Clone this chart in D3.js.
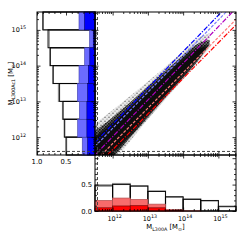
<!DOCTYPE html>
<html><head><meta charset="utf-8">
<script src="https://cdn.jsdelivr.net/npm/d3@7"></script>
<style>
body{margin:0;background:#fff}
svg text{font-family:"DejaVu Sans",sans-serif;fill:#000}
</style></head><body>
<svg id="chart" width="249" height="249"></svg>
<script>
// log10 mass bin edges (0.5 dex)
var binEdges = [11.5, 12.0, 12.5, 13.0, 13.5, 14.0, 14.5, 15.0, 15.5];

// bottom panel, fraction per L300A bin
var botBlack = [0.49, 0.50, 0.47, 0.37, 0.27, 0.22, 0.20, 0.09];
var botGray  = [0.47, 0.52, 0.48, 0.38, 0.26, 0.23, 0.19, 0.08];
var botLightRed = [0.20, 0.245, 0.22, 0.13, 0.03, 0.005, 0, 0];
var botDarkRed  = [0.06, 0.095, 0.10, 0.06, 0.01, 0, 0, 0];

// left panel, fraction per L300Ac1 bin (bottom bin first)
var leftBlack = [0.50, 0.53, 0.55, 0.61, 0.72, 0.77, 0.81, 0.90];
var leftGray  = [0.49, 0.52, 0.56, 0.63, 0.73, 0.78, 0.79, 0.89];
var leftLightBlue = [0.22, 0.30, 0.27, 0.305, 0.276, 0.18, 0.095, 0.276];
var leftDarkBlue  = [0.126, 0.14, 0.14, 0.126, 0.115, 0.09, 0.03, 0.18];

// scatter cloud envelope, log10 masses
var cloudX  = [11.4, 12.0, 12.5, 13.0, 13.5, 14.0, 14.4, 14.75];
var outerHi = [12.3, 12.75, 13.15, 13.55, 13.97, 14.4, 14.8, 14.9];
var outerLo = [10.8, 11.25, 11.9, 12.5, 13.08, 13.62, 14.05, 14.6];
var midHi   = [12.1, 12.55, 12.97, 13.42, 13.87, 14.29, 14.64, 14.72];
var midLo   = [10.9, 11.4, 12.0, 12.56, 13.13, 13.66, 14.1, 14.6];
var coreHi  = [11.95, 12.42, 12.87, 13.32, 13.78, 14.22, 14.54, 14.58];
var coreLo  = [11.0, 11.5, 12.03, 12.58, 13.15, 13.7, 14.16, 14.58];

// fit lines, [log x, log y] end points
var lineStart = [[11.5, 11.85], [11.5, 11.74], [11.5, 11.5], [11.68, 11.5], [11.85, 11.5]];
var lineEnd   = [[15.09, 15.5], [15.22, 15.5], [15.4, 15.5], [15.5, 15.29], [15.5, 15.14]];
var lineColors = ['#0000ff', '#7a7aff', '#b000c0', '#ff7a7a', '#ff0000'];
var lineDash = ['5,1.5,1.2,1.5', '3,1.5', '5,1.5,1.2,1.5', '3,1.5', '5,1.5,1.2,1.5'];

// mass cuts
var cutX = 11.57;
var cutY = 11.6;

var L = 37, X0 = 95, X1 = 236, Y0 = 12, Y1 = 155, YB = 211;

var svg = d3.select('#chart');

var x = d3.scaleLog().domain([Math.pow(10, 11.5), Math.pow(10, 15.5)]).range([X0, X1]);
var y = d3.scaleLog().domain([Math.pow(10, 11.5), Math.pow(10, 15.5)]).range([Y1, Y0]);
var fx = d3.scaleLinear().domain([1, 0]).range([L, X0]);
var fy = d3.scaleLinear().domain([0, 1.06]).range([YB, Y1]);

function p(v) { return Math.pow(10, v); }

var defs = svg.append('defs');
defs.append('clipPath').attr('id', 'clipMain')
  .append('rect').attr('x', X0).attr('y', Y0).attr('width', X1 - X0).attr('height', Y1 - Y0);
defs.append('filter').attr('id', 'blur').attr('x', '-10%').attr('y', '-10%').attr('width', '120%').attr('height', '120%')
  .append('feGaussianBlur').attr('stdDeviation', 0.9);

// speckle fills so the cloud reads as a swarm of points
var pOuter = defs.append('pattern').attr('id', 'speckOuter').attr('patternUnits', 'userSpaceOnUse')
  .attr('width', 4).attr('height', 4);
pOuter.append('rect').attr('width', 4).attr('height', 4).attr('fill', '#e8e8e8');
pOuter.append('circle').attr('cx', 1).attr('cy', 1.2).attr('r', 0.7).attr('fill', '#555');
pOuter.append('circle').attr('cx', 3).attr('cy', 3.1).attr('r', 0.6).attr('fill', '#888');
var pMid = defs.append('pattern').attr('id', 'speckMid').attr('patternUnits', 'userSpaceOnUse')
  .attr('width', 3).attr('height', 3);
pMid.append('rect').attr('width', 3).attr('height', 3).attr('fill', '#777');
pMid.append('circle').attr('cx', 0.8).attr('cy', 0.8).attr('r', 0.9).attr('fill', '#111');
pMid.append('circle').attr('cx', 2.3).attr('cy', 2.2).attr('r', 0.8).attr('fill', '#222');

// ---- bottom panel histograms
var bot = svg.append('g');
function botBars(vals, fill, stroke, sw) {
  bot.selectAll(null).data(vals).enter().append('rect')
    .attr('x', (d, i) => x(p(binEdges[i])))
    .attr('width', (d, i) => x(p(binEdges[i + 1])) - x(p(binEdges[i])))
    .attr('y', d => fy(d))
    .attr('height', d => fy(0) - fy(d))
    .attr('fill', fill).attr('stroke', stroke).attr('stroke-width', sw);
}
botBars(botGray, 'none', '#888', 1.2);
botBars(botBlack, 'none', '#000', 0.9);
botBars(botLightRed, '#f76b6b', '#b05050', 0.7);
botBars(botDarkRed, '#ff0000', '#700', 0.7);

// ---- left panel histograms
var left = svg.append('g');
function leftBars(vals, fill, stroke, sw) {
  left.selectAll(null).data(vals).enter().append('rect')
    .attr('x', d => fx(d))
    .attr('width', d => fx(0) - fx(d))
    .attr('y', (d, i) => y(p(binEdges[i + 1])))
    .attr('height', (d, i) => y(p(binEdges[i])) - y(p(binEdges[i + 1])))
    .attr('fill', fill).attr('stroke', stroke).attr('stroke-width', sw);
}
leftBars(leftGray, '#fff', '#888', 1.2);
leftBars(leftBlack, 'none', '#000', 0.9);
leftBars(leftLightBlue, '#6b6bff', '#4444aa', 0.6);
leftBars(leftDarkBlue, '#0000ff', '#000066', 0.6);

// ---- main scatter cloud
var main = svg.append('g').attr('clip-path', 'url(#clipMain)');
var cloud = cloudX.map((v, i) => ({lx: v, oh: outerHi[i], ol: outerLo[i], mh: midHi[i], ml: midLo[i], ch: coreHi[i], cl: coreLo[i]}));
function band(hiKey, loKey) {
  return d3.area().curve(d3.curveBasis)
    .x(d => x(p(d.lx))).y0(d => y(p(d[loKey]))).y1(d => y(p(d[hiKey])));
}
main.append('path').datum(cloud).attr('d', band('oh', 'ol')).attr('fill', 'url(#speckOuter)');
main.append('path').datum(cloud).attr('d', band('mh', 'ml')).attr('fill', 'url(#speckMid)');
main.append('path').datum(cloud).attr('d', band('ch', 'cl')).attr('fill', '#0a0a0a').attr('filter', 'url(#blur)');

main.selectAll('line.fit').data(lineStart).enter().append('line')
  .attr('x1', d => x(p(d[0]))).attr('y1', d => y(p(d[1])))
  .attr('x2', (d, i) => x(p(lineEnd[i][0]))).attr('y2', (d, i) => y(p(lineEnd[i][1])))
  .attr('stroke', (d, i) => lineColors[i])
  .attr('stroke-dasharray', (d, i) => lineDash[i])
  .attr('stroke-width', 1.2);

// ---- dashed mass cuts
svg.append('line').attr('x1', x(p(cutX))).attr('x2', x(p(cutX))).attr('y1', Y0).attr('y2', YB)
  .attr('stroke', '#444').attr('stroke-dasharray', '3,2').attr('stroke-width', 1);
svg.append('line').attr('x1', L).attr('x2', X1).attr('y1', y(p(cutY))).attr('y2', y(p(cutY)))
  .attr('stroke', '#444').attr('stroke-dasharray', '3,2').attr('stroke-width', 1);

// ---- frames
[[L, Y0, X0 - L, Y1 - Y0], [X0, Y0, X1 - X0, Y1 - Y0], [X0, Y1, X1 - X0, YB - Y1]].forEach(r => {
  svg.append('rect').attr('x', r[0]).attr('y', r[1]).attr('width', r[2]).attr('height', r[3])
    .attr('fill', 'none').attr('stroke', '#000').attr('stroke-width', 1);
});

// ---- ticks
var logMajor = [1e12, 1e13, 1e14, 1e15];
var logMinor = [];
for (var e = 11; e <= 15; e++) {
  for (var m = 2; m <= 9; m++) {
    var v = m * Math.pow(10, e);
    if (v >= p(11.5) && v <= p(15.5)) logMinor.push(v);
  }
}
var fracMajor = [0, 0.5, 1.0];
var fracMinor = [0.1, 0.2, 0.3, 0.4, 0.6, 0.7, 0.8, 0.9];

function ticks(axis, scale, vals, size, tx, ty) {
  var g = svg.append('g').attr('transform', 'translate(' + tx + ',' + ty + ')')
    .call(axis(scale).tickValues(vals).tickSize(size).tickFormat(''));
  g.select('.domain').remove();
  g.selectAll('line').attr('stroke', '#000').attr('stroke-width', 0.8);
}
function both(axis, scale, tx, ty, maj, min) {
  ticks(axis, scale, maj, 3.5, tx, ty);
  ticks(axis, scale, min, 2, tx, ty);
}
// main panel
both(d3.axisTop, x, 0, Y1, logMajor, logMinor);
both(d3.axisBottom, x, 0, Y0, logMajor, logMinor);
both(d3.axisRight, y, X0, 0, logMajor, logMinor);
both(d3.axisLeft, y, X1, 0, logMajor, logMinor);
// left panel
both(d3.axisLeft, y, X0, 0, logMajor, logMinor);
both(d3.axisRight, y, L, 0, logMajor, logMinor);
both(d3.axisBottom, fx, 0, Y0, fracMajor, fracMinor);
both(d3.axisTop, fx, 0, Y1, fracMajor, fracMinor);
// bottom panel
both(d3.axisBottom, x, 0, Y1, logMajor, logMinor);
both(d3.axisTop, x, 0, YB, logMajor, logMinor);
both(d3.axisRight, fy, X0, 0, fracMajor, fracMinor);
both(d3.axisLeft, fy, X1, 0, fracMajor, fracMinor);

// ---- tick labels
function powLabel(g) {
  g.append('tspan').text('10');
  g.append('tspan').attr('dy', -3).attr('font-size', 4.8).text(d => Math.round(Math.log10(d)));
}
svg.selectAll(null).data(logMajor).enter().append('text')
  .attr('x', 26).attr('y', d => y(d) + 2.5)
  .attr('text-anchor', 'end').attr('font-size', 6.5)
  .call(powLabel);
svg.selectAll(null).data(logMajor).enter().append('text')
  .attr('x', d => x(d) + 2).attr('y', YB + 10)
  .attr('text-anchor', 'middle').attr('font-size', 6.5)
  .call(powLabel);
svg.selectAll(null).data([1.0, 0.5]).enter().append('text')
  .attr('x', d => fx(d)).attr('y', Y1 + 8.5)
  .attr('text-anchor', 'middle').attr('font-size', 6.8)
  .text(d => d.toFixed(1));
svg.selectAll(null).data([0.0, 0.5]).enter().append('text')
  .attr('x', X0 - 3).attr('y', d => fy(d) + 2.5)
  .attr('text-anchor', 'end').attr('font-size', 6.8)
  .text(d => d.toFixed(1));

// ---- axis titles
function massLabel(t, sub) {
  t.append('tspan').text('M');
  t.append('tspan').attr('dy', 1.8).attr('font-size', 4.8).text(sub);
  t.append('tspan').attr('dy', -1.8).text(' [M');
  t.append('tspan').attr('dy', 1.8).attr('font-size', 4.8).text('\u2299');
  t.append('tspan').attr('dy', -1.8).text(']');
}
svg.append('text').attr('x', (X0 + X1) / 2).attr('y', 229)
  .attr('text-anchor', 'middle').attr('font-size', 6.8)
  .call(massLabel, 'L300A');
svg.append('text').attr('transform', 'translate(13,' + ((Y0 + Y1) / 2) + ') rotate(-90)')
  .attr('text-anchor', 'middle').attr('font-size', 6.8)
  .call(massLabel, 'L300Ac1');
</script>
</body></html>
